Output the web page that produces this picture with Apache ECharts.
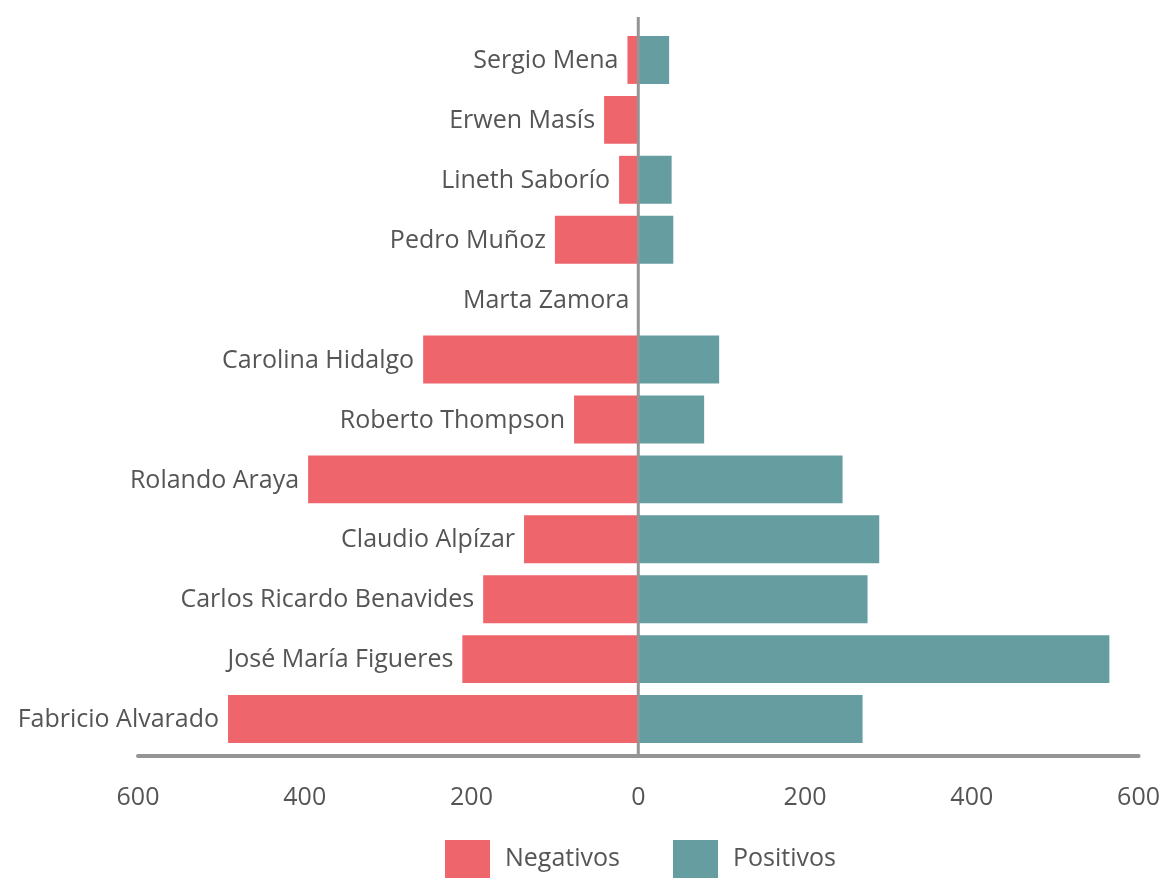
<!DOCTYPE html>
<html>
<head>
<meta charset="utf-8">
<script src="https://cdn.jsdelivr.net/npm/echarts@6/dist/echarts.min.js"></script>
<style>
  html, body { margin: 0; padding: 0; background: #fff; }
  #chart { width: 1163px; height: 878px; }
</style>
</head>
<body>
<div id="chart"></div>
<script>
const categories = ['Sergio Mena', 'Erwen Masís', 'Lineth Saborío', 'Pedro Muñoz', 'Marta Zamora',
  'Carolina Hidalgo', 'Roberto Thompson', 'Rolando Araya', 'Claudio Alpízar',
  'Carlos Ricardo Benavides', 'José María Figueres', 'Fabricio Alvarado'];
const negativos = [13, 41, 23, 100, 0, 258, 77, 396, 137, 186, 211, 492];
const positivos = [37, 0, 40, 42, 0, 97, 79, 245, 289, 275, 565, 269];
const xTicks = [-600, -400, -200, 0, 200, 400, 600];

const FONT = '"Open Sans", "Noto Sans", sans-serif';
const TEXT = '#555555';
const AXIS = '#959595';
const FS = 25;

const chart = echarts.init(document.getElementById('chart'), null, { renderer: 'canvas' });
const option = {
  animation: false,
  textStyle: { fontFamily: FONT },
  grid: { left: 138, right: 24, top: 30, bottom: 129, containLabel: false },
  legend: {
    top: 840, left: 445, padding: 0,
    itemWidth: 45, itemHeight: 38, itemGap: 53,
    icon: 'rect',
    textStyle: { fontFamily: FONT, fontSize: FS, color: TEXT, padding: [0, 0, 0, 10] },
    data: ['Negativos', 'Positivos']
  },
  xAxis: {
    type: 'value',
    min: xTicks[0], max: xTicks[xTicks.length - 1], interval: 200,
    offset: 7,
    axisLine: { show: true, onZero: false, lineStyle: { color: AXIS, width: 4, cap: 'round' } },
    axisTick: { show: false },
    splitLine: { show: false },
    axisLabel: {
      margin: 29, fontFamily: FONT, fontSize: FS, color: TEXT,
      formatter: v => String(Math.abs(v))
    }
  },
  yAxis: {
    type: 'category',
    data: categories,
    inverse: true,
    axisLine: { show: false },
    axisTick: { show: false },
    axisLabel: { show: false },
    splitLine: { show: false }
  },
  series: [
    {
      name: 'Negativos', type: 'bar', stack: 'total',
      barCategoryGap: '20%',
      itemStyle: { color: '#EE656B' },
      data: negativos.map(v => -v),
      label: {
        show: true, position: 'left', distance: 9, offset: [0, 1],
        fontFamily: FONT, fontSize: FS, color: TEXT,
        formatter: p => p.name
      }
    },
    {
      name: 'Positivos', type: 'bar', stack: 'total',
      barCategoryGap: '20%',
      itemStyle: { color: '#669DA0' },
      data: positivos
    }
  ]
};
chart.setOption(option);

// vertical zero line, positioned through the axis scale
const x0 = chart.convertToPixel({ xAxisIndex: 0 }, 0);
chart.setOption({
  graphic: [{
    type: 'line', z: 100,
    shape: { x1: x0, y1: 17, x2: x0, y2: 756 },
    style: { stroke: AXIS, lineWidth: 3 }
  }]
});
</script>
</body>
</html>
